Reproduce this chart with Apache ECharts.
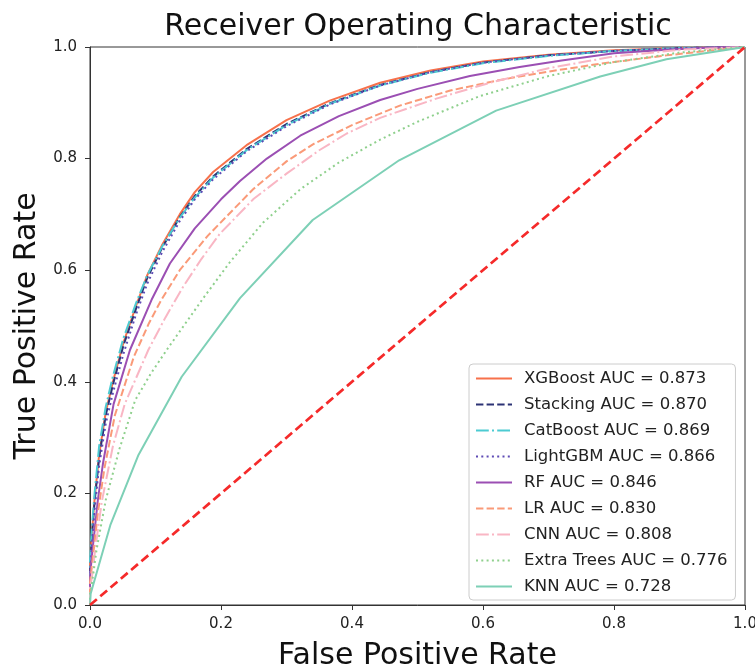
<!DOCTYPE html>
<html>
<head>
<meta charset="utf-8">
<script src="https://cdn.jsdelivr.net/npm/echarts@6/dist/echarts.min.js"></script>
<style>html,body{margin:0;padding:0;background:#fff}#c{width:755px;height:666px}</style>
</head>
<body>
<div id="c"></div>
<script>
// ROC points [fpr, tpr]
const xgboost = [[0,0],[0,0.07],[0.003,0.13],[0.007,0.19],[0.014,0.27],[0.024,0.345],[0.035,0.40],[0.051,0.47],[0.07,0.535],[0.087,0.59],[0.11,0.645],[0.137,0.70],[0.16,0.74],[0.188,0.776],[0.239,0.824],[0.30,0.869],[0.366,0.904],[0.443,0.936],[0.52,0.958],[0.6,0.974],[0.7,0.986],[0.8,0.994],[0.9,0.998],[1,1]];
const stacking = [[0,0],[0,0.06],[0.003,0.125],[0.007,0.185],[0.014,0.265],[0.024,0.34],[0.035,0.395],[0.051,0.465],[0.07,0.53],[0.087,0.585],[0.11,0.64],[0.137,0.695],[0.16,0.733],[0.188,0.768],[0.239,0.817],[0.30,0.862],[0.366,0.899],[0.443,0.932],[0.52,0.955],[0.6,0.972],[0.7,0.985],[0.8,0.993],[0.9,0.998],[1,1]];
const catboost = [[0,0],[0,0.08],[0.003,0.14],[0.007,0.2],[0.014,0.285],[0.024,0.355],[0.035,0.41],[0.051,0.478],[0.07,0.54],[0.087,0.59],[0.11,0.642],[0.137,0.694],[0.16,0.73],[0.188,0.766],[0.239,0.815],[0.30,0.86],[0.366,0.898],[0.443,0.931],[0.52,0.954],[0.6,0.971],[0.7,0.984],[0.8,0.993],[0.9,0.998],[1,1]];
const lightgbm = [[0,0],[0,0.05],[0.003,0.11],[0.007,0.17],[0.014,0.25],[0.024,0.325],[0.035,0.38],[0.051,0.45],[0.07,0.52],[0.087,0.575],[0.11,0.632],[0.137,0.688],[0.16,0.727],[0.188,0.763],[0.239,0.813],[0.30,0.858],[0.366,0.897],[0.443,0.931],[0.52,0.955],[0.6,0.972],[0.7,0.985],[0.8,0.993],[0.9,0.998],[1,1]];
const rf = [[0,0],[0,0.05],[0.003,0.09],[0.012,0.188],[0.02,0.255],[0.036,0.36],[0.061,0.457],[0.094,0.547],[0.122,0.612],[0.16,0.675],[0.2,0.727],[0.229,0.76],[0.27,0.8],[0.321,0.841],[0.38,0.876],[0.443,0.905],[0.5,0.925],[0.58,0.948],[0.656,0.964],[0.72,0.976],[0.8,0.989],[0.88,0.995],[0.95,0.999],[1,1]];
const lr = [[0,0],[0,0.04],[0.003,0.07],[0.012,0.165],[0.022,0.245],[0.038,0.34],[0.067,0.445],[0.09,0.505],[0.109,0.547],[0.137,0.60],[0.18,0.662],[0.249,0.745],[0.30,0.795],[0.341,0.826],[0.4,0.86],[0.473,0.895],[0.55,0.922],[0.626,0.941],[0.7,0.956],[0.779,0.97],[0.88,0.985],[0.95,0.994],[1,1]];
const cnn = [[0,0],[0,0.03],[0.003,0.05],[0.008,0.10],[0.018,0.185],[0.035,0.285],[0.053,0.36],[0.089,0.457],[0.115,0.515],[0.142,0.57],[0.17,0.62],[0.198,0.665],[0.25,0.728],[0.3,0.773],[0.35,0.815],[0.392,0.845],[0.443,0.873],[0.53,0.908],[0.611,0.936],[0.7,0.962],[0.8,0.983],[0.9,0.995],[1,1]];
const extraTrees = [[0,0],[0,0.02],[0.002,0.03],[0.010,0.099],[0.024,0.188],[0.045,0.28],[0.069,0.367],[0.093,0.415],[0.12,0.462],[0.173,0.55],[0.214,0.615],[0.264,0.685],[0.321,0.745],[0.38,0.793],[0.443,0.834],[0.5,0.866],[0.595,0.912],[0.7,0.948],[0.8,0.973],[0.9,0.99],[1,1]];
const knn = [[0,0],[0.001,0.02],[0.031,0.143],[0.074,0.269],[0.14,0.409],[0.229,0.55],[0.34,0.69],[0.472,0.797],[0.62,0.886],[0.779,0.947],[0.88,0.978],[1,1]];
const chance = [[0,0],[1,1]];

const seriesNames = ['XGBoost AUC = 0.873','Stacking AUC = 0.870','CatBoost AUC = 0.869','LightGBM AUC = 0.866','RF AUC = 0.846','LR AUC = 0.830','CNN AUC = 0.808','Extra Trees AUC = 0.776','KNN AUC = 0.728'];
const seriesData = [xgboost, stacking, catboost, lightgbm, rf, lr, cnn, extraTrees, knn];
const seriesColors = ['#f7714b','#2c3375','#4ccbd2','#5e4bb5','#9b4fb3','#fa9a78','#f9b6c4','#8fd08d','#7dd0b6'];
const dashSolid = 'solid', dashDashed = [7.4,3.2], dashDot = [12.8,3.2,2,3.2], dashDotted = [2,3.3];
const seriesDash = [dashSolid, dashDashed, dashDot, dashDotted, dashSolid, dashDashed, dashDot, dashDotted, dashSolid];
const xTicks = [0, 0.2, 0.4, 0.6, 0.8, 1.0];

const FONT = 'DejaVu Sans';
const series = seriesData.map((d, i) => ({
  name: seriesNames[i], type: 'line', data: d, symbol: 'none', smooth: false,
  lineStyle: { color: seriesColors[i], width: 2, type: seriesDash[i], cap: 'butt' },
  itemStyle: { color: seriesColors[i] }
}));
series.push({
  name: 'chance', type: 'line', data: chance, symbol: 'none',
  lineStyle: { color: '#f52a2a', width: 2.7, type: [9, 4.5] }
});

const axisCommon = {
  type: 'value', min: 0, max: 1, interval: 0.2,
  axisLine: { show: true, lineStyle: { color: '#333', width: 1 } },
  axisTick: { show: true, inside: false, length: 5, lineStyle: { color: '#333', width: 1 } },
  splitLine: { show: false },
  axisLabel: { fontFamily: FONT, fontSize: 15, color: '#222', formatter: v => v.toFixed(1) },
  nameLocation: 'middle',
  nameTextStyle: { fontFamily: FONT, fontSize: 30, color: '#111' }
};

const chart = echarts.init(document.getElementById('c'), null, { renderer: 'canvas' });
chart.setOption({
  animation: false,
  backgroundColor: '#fff',
  graphic: [{
    type: 'text', x: 418, y: 27,
    style: { text: 'Receiver Operating Characteristic', font: '30px "DejaVu Sans"', fill: '#111', textAlign: 'center', textVerticalAlign: 'middle' }
  }],
  grid: { left: 90, right: 10, top: 47, bottom: 61, outerBoundsMode: 'none', containLabel: false, show: true, borderColor: '#333', borderWidth: 1, backgroundColor: 'transparent' },
  xAxis: Object.assign({}, axisCommon, {
    name: 'False Positive Rate', nameGap: 36,
    axisLabel: Object.assign({}, axisCommon.axisLabel, { margin: 12 })
  }),
  yAxis: Object.assign({}, axisCommon, {
    name: 'True Positive Rate', nameGap: 42,
    axisLabel: Object.assign({}, axisCommon.axisLabel, { margin: 13 })
  }),
  legend: {
    data: seriesNames, orient: 'vertical', left: 469, top: 364,
    itemWidth: 36, itemHeight: 16, itemGap: 9,
    padding: [6, 8, 5, 6],
    backgroundColor: '#fff', borderColor: '#ccc', borderWidth: 1, borderRadius: 4,
    itemStyle: { opacity: 0, color: 'transparent', borderWidth: 0 },
    textStyle: { fontFamily: FONT, fontSize: 16.5, color: '#222', padding: [0, 0, 0, 7] }
  },
  series: series
});
</script>
</body>
</html>
